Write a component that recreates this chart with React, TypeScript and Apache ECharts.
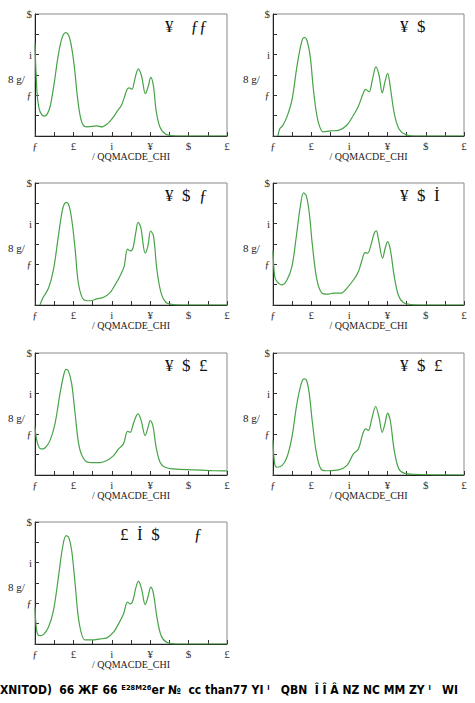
import React, { useEffect, useRef } from "react";
import * as echarts from "echarts";

// ---------- data ----------
const panelTitles = ["¥    ƒƒ", "¥  $", "¥  $  ƒ", "¥  $  İ", "¥  $  £", "¥  $  £", "£  İ  $        ƒ"];
const xTickLabels = ["ƒ", "£", "i", "¥", "$", "£"]; // at 0,2,4,6,8,10
const yTickValues = [2, 4, 6];
const yTickLabels = ["ƒ", "i", "$"];
const xAxisTitle = "/ QQMACDE_CHI";
const yAxisTitle = "8 g/";
const caption = "XNITOD)  66 ЖF 66 ᴱ²⁸ᴹ²⁶er №  cc than77 YI ⁱ   QBN  Î Î Â NZ NC MM ZY ⁱ   WI";

const curve1 = [[0,4.55],[0.1,2.2],[0.2,1.4],[0.35,1.05],[0.5,0.98],[0.65,1.1],[0.8,1.5],[1.0,2.6],[1.2,3.9],[1.4,4.8],[1.6,5.08],[1.75,4.95],[1.9,4.4],[2.05,3.4],[2.2,2.0],[2.35,1.0],[2.5,0.55],[2.7,0.45],[3.0,0.47],[3.2,0.5],[3.5,0.45],[3.7,0.55],[3.9,0.72],[4.1,0.95],[4.3,1.25],[4.5,1.5],[4.65,1.9],[4.8,2.3],[4.9,2.37],[5.05,2.3],[5.2,2.8],[5.38,3.3],[5.55,2.95],[5.75,2.08],[5.9,2.45],[6.03,2.88],[6.17,2.45],[6.3,1.3],[6.45,0.6],[6.6,0.28],[6.8,0.1],[7.0,0.03],[7.5,0],[10,0]];
const curve2 = [[0.26,0],[0.35,0.35],[0.5,0.5],[0.73,0.94],[0.99,1.76],[1.25,3.4],[1.48,4.56],[1.63,4.85],[1.77,4.72],[1.95,3.9],[2.12,2.25],[2.35,0.77],[2.64,0.2],[3.0,0.25],[3.43,0.28],[3.86,0.53],[4.21,1.02],[4.47,1.46],[4.73,2.12],[4.85,2.29],[5.03,2.17],[5.2,2.75],[5.39,3.4],[5.55,3.0],[5.72,2.12],[5.86,2.66],[6.0,3.08],[6.14,2.42],[6.35,1.1],[6.59,0.36],[6.94,0.07],[7.43,0],[10,0]];
const curve3 = [[0.26,0],[0.4,0.33],[0.7,0.82],[0.96,1.73],[1.22,3.4],[1.44,4.72],[1.62,5.05],[1.76,4.92],[1.91,4.23],[2.09,2.75],[2.26,1.07],[2.52,0.28],[2.87,0.21],[3.22,0.3],[3.57,0.38],[3.91,0.61],[4.17,0.99],[4.43,1.43],[4.64,1.89],[4.82,2.75],[4.96,2.66],[5.1,2.79],[5.25,3.57],[5.37,4.06],[5.51,3.81],[5.74,2.56],[5.88,2.9],[6.02,3.64],[6.17,3.4],[6.35,1.73],[6.57,0.58],[6.83,0.12],[7.22,0.02],[7.9,0],[10,0]];
const curve4 = [[0,2.66],[0.09,1.4],[0.21,1.15],[0.47,0.99],[0.73,1.23],[0.99,1.89],[1.22,3.37],[1.43,4.85],[1.6,5.51],[1.74,5.38],[1.9,4.52],[2.07,2.88],[2.3,1.23],[2.56,0.58],[2.82,0.53],[3.17,0.58],[3.57,0.58],[3.86,0.82],[4.21,1.23],[4.47,1.64],[4.64,2.14],[4.82,2.58],[4.96,2.55],[5.13,2.96],[5.3,3.53],[5.41,3.65],[5.51,3.29],[5.74,2.3],[5.86,2.74],[6.0,3.12],[6.14,2.74],[6.35,1.4],[6.56,0.49],[6.82,0.12],[7.25,0.02],[7.9,0],[10,0]];
const curve5 = [[0,2.35],[0.12,1.6],[0.3,1.28],[0.52,1.33],[0.78,1.69],[1.04,2.52],[1.3,3.99],[1.51,4.98],[1.62,5.19],[1.74,5.11],[1.91,4.49],[2.09,3.01],[2.31,1.36],[2.61,0.71],[2.96,0.61],[3.39,0.61],[3.74,0.71],[4.09,0.95],[4.35,1.28],[4.61,1.53],[4.82,2.15],[4.96,2.1],[5.13,2.55],[5.36,3.01],[5.51,2.75],[5.74,1.94],[5.88,2.32],[6.0,2.68],[6.14,2.43],[6.31,1.36],[6.52,0.62],[6.78,0.38],[7.22,0.3],[8.26,0.25],[9.3,0.21],[10,0.2]];
const curve6 = [[0,1.69],[0.09,0.54],[0.21,0.38],[0.47,0.46],[0.73,0.87],[0.99,1.86],[1.25,3.5],[1.48,4.49],[1.63,4.73],[1.76,4.65],[1.9,3.99],[2.07,2.52],[2.3,0.95],[2.56,0.25],[2.9,0.21],[3.43,0.25],[3.86,0.46],[4.21,1.04],[4.47,1.28],[4.7,2.02],[4.85,2.27],[4.99,2.19],[5.17,2.76],[5.37,3.37],[5.55,2.84],[5.72,2.1],[5.86,2.52],[6.0,3.04],[6.14,2.68],[6.35,1.2],[6.59,0.3],[6.9,0.08],[7.43,0.03],[8.5,0.01],[10,0]];
const curve7 = [[0,1.81],[0.09,0.66],[0.23,0.41],[0.43,0.46],[0.7,0.82],[0.96,1.64],[1.22,3.29],[1.44,4.77],[1.62,5.33],[1.76,5.23],[1.91,4.6],[2.09,2.96],[2.31,0.99],[2.61,0.2],[2.96,0.2],[3.39,0.25],[3.74,0.3],[4.09,0.58],[4.35,0.99],[4.61,1.48],[4.82,2.06],[4.96,1.97],[5.1,2.14],[5.25,2.76],[5.39,3.09],[5.55,2.71],[5.74,1.94],[5.88,2.3],[6.03,2.8],[6.17,2.47],[6.35,1.32],[6.57,0.41],[6.87,0.08],[7.39,0],[10,0]];
const curves = [curve1, curve2, curve3, curve4, curve5, curve6, curve7];

// ---------- layout ----------
const W = 475;
const H = 703;
const colLeft = [35, 273];
const colWidth = [192, 191];
const rowTop = [14, 183, 353, 522];
const plotHeight = 122;
const titleOffset = [130, 127, 130, 127, 130, 127, 85];
const yTitleX = [8, 243];
const lineColor = "#47a347";
const serif = "'Liberation Serif', 'DejaVu Serif', serif";

export default function App() {
  const ref = useRef<HTMLDivElement>(null);
  useEffect(() => {
    document.body.style.margin = "0";
    const chart = echarts.init(ref.current!, null, { renderer: "svg" });
    const grids: any[] = [];
    const xAxes: any[] = [];
    const yAxes: any[] = [];
    const series: any[] = [];
    const graphics: any[] = [];
    curves.forEach((c, i) => {
      const col = i % 2;
      const row = Math.floor(i / 2);
      const left = colLeft[col];
      const top = rowTop[row];
      grids.push({
        left,
        top,
        width: colWidth[col],
        height: plotHeight,
        show: true,
        borderColor: "#8a8a8a",
        borderWidth: 1,
        backgroundColor: "transparent",
      });
      xAxes.push({
        type: "value",
        gridIndex: i,
        min: 0,
        max: 10,
        interval: 2,
        name: xAxisTitle,
        nameLocation: "middle",
        nameGap: 15,
        nameTextStyle: { fontFamily: serif, fontSize: 10, color: "#222" },
        axisLine: { show: true, onZero: false, lineStyle: { color: "#222", width: 1 } },
        axisTick: { show: true, inside: true, length: 4, lineStyle: { color: "#333" } },
        minorTick: { show: true, splitNumber: 2, length: 4, lineStyle: { color: "#333" } },
        splitLine: { show: false },
        axisLabel: {
          fontFamily: serif,
          fontSize: 11,
          color: "#333",
          margin: 4,
          formatter: (v: number) => xTickLabels[Math.round(v / 2)] ?? "",
        },
      });
      yAxes.push({
        type: "value",
        gridIndex: i,
        min: 0,
        max: 6,
        interval: 1,
        axisLine: { show: true, onZero: false, lineStyle: { color: "#222", width: 1 } },
        axisTick: { show: true, inside: true, length: 4, lineStyle: { color: "#333" } },
        splitLine: { show: false },
        axisLabel: {
          fontFamily: serif,
          fontSize: 11,
          color: "#333",
          margin: 3,
          formatter: (v: number) => {
            const k = yTickValues.indexOf(Math.round(v));
            return k >= 0 ? yTickLabels[k] : "";
          },
        },
      });
      series.push({
        type: "line",
        xAxisIndex: i,
        yAxisIndex: i,
        data: c,
        smooth: 0.35,
        showSymbol: false,
        clip: true,
        lineStyle: { color: lineColor, width: 1.2 },
      });
      graphics.push({
        type: "text",
        left: left + titleOffset[i],
        top: top + 4,
        style: { text: panelTitles[i], font: `17px ${serif}`, fill: "#111" },
      });
      graphics.push({
        type: "text",
        left: yTitleX[col],
        top: top + 59,
        style: { text: yAxisTitle, font: `11px ${serif}`, fill: "#222" },
      });
    });
    graphics.push({
      type: "text",
      left: 0,
      top: 684,
      style: {
        text: caption,
        font: "bold 12px 'DejaVu Sans Condensed', 'Liberation Sans Narrow', sans-serif",
        fill: "#000",
      },
    });
    chart.setOption({
      animation: false,
      backgroundColor: "#fff",
      grid: grids,
      xAxis: xAxes,
      yAxis: yAxes,
      series,
      graphic: graphics,
    });
    return () => chart.dispose();
  }, []);
  return <div ref={ref} style={{ width: W, height: H }} />;
}
